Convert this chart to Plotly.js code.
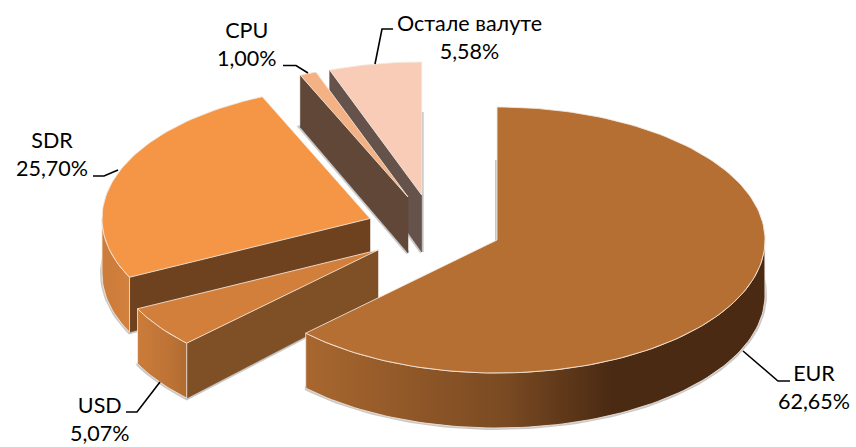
<!DOCTYPE html>
<html>
<head>
<meta charset="utf-8">
<script src="https://cdn.plot.ly/plotly-3.0.1.min.js"></script>
<style>html,body{margin:0;padding:0;background:#fff}#chart{width:856px;height:447px}</style>
</head>
<body>
<div id="chart"></div>
<script>
// Data
var categories = ['EUR', 'USD', 'SDR', 'CPU', 'Остале валуте'];
var shares = [62.65, 5.07, 25.70, 1.00, 5.58];

// Appearance of the exploded, tilted pie
var apexX = [497, 378, 370, 408, 421.7];
var apexY = [240, 250, 218.5, 197, 195];
var depthNear = [55, 49, 49, 56, 57];
var depthFar = [55, 55, 55, 52, 52];
var topColors = ['#b66f32', '#d27f3c', '#f49646', '#f4b183', '#f8ccb6'];
var wallColors = [null, '#7f4f25', '#6e421e', '#604737', '#65524a'];
var rimLeft = ['#a9672f', '#cb7c3a', '#cc7c3b', null, null];
var rimMid = ['#7a4a22', '#bd7335', '#cf7e3c', null, null];
var rimRight = ['#4a2a13', '#b06b30', '#d4813e', null, null];
var rimStop = [612, 187, 129, 0, 0];
var drawOrder = [4, 3, 2, 1, 0];
var labelX = [814, 100, 52, 247, 469];
var labelY = [387, 418.5, 153.5, 43.5, 36.5];
var leaderX = [[790, 778, 743], [126, 137, 160], [93, 104, 118], [283, 296, 308], [393, 382, 375]];
var leaderY = [[381, 381, 351], [412, 412, 382], [176, 176, 170], [65.5, 65.5, 73], [29, 29, 64]];

var RX = 268, RY = 133;
var traces = [];

function pt(i, deg, dy) {
  var a = deg * Math.PI / 180;
  return [apexX[i] + RX * Math.sin(a), apexY[i] - RY * Math.cos(a) + (dy || 0)];
}
function arc(i, a0, a1, dy) {
  var out = [], n = Math.max(2, Math.ceil(Math.abs(a1 - a0) / 1.5));
  for (var k = 0; k <= n; k++) out.push(pt(i, a0 + (a1 - a0) * k / n, dy));
  return out;
}
function add(poly, color, line, grad) {
  var t = {
    type: 'scatter', mode: 'lines', fill: 'toself', hoverinfo: 'skip', showlegend: false,
    x: poly.map(function (p) { return p[0]; }).concat([poly[0][0]]),
    y: poly.map(function (p) { return p[1]; }).concat([poly[0][1]]),
    fillcolor: color || undefined,
    line: line
  };
  if (grad) t.fillgradient = grad;
  traces.push(t);
}

var bounds = [], cum = 0;
shares.forEach(function (v) {
  bounds.push([cum * 3.6, (cum + v) * 3.6]);
  cum += v;
});

var edge = { color: 'rgba(245,232,220,0.85)', width: 1 };

drawOrder.forEach(function (i) {
  var a0 = bounds[i][0], a1 = bounds[i][1];
  var apexTop = [apexX[i], apexY[i]];
  var apexBot = [apexX[i], apexY[i] + depthNear[i]];

  // soft shadow under the slice
  add([apexBot].concat(arc(i, a0, a1, depthFar[i])), '#c9c9c9', { color: '#c9c9c9', width: 4 });

  // radial cut face
  if (wallColors[i]) {
    var pTop = pt(i, a0, 0), pBot = pt(i, a0, depthFar[i]);
    add([apexTop, pTop, pBot, apexBot], wallColors[i], { color: wallColors[i], width: 0.5 });
  }

  // outer rim, only where it faces the viewer
  if (rimLeft[i]) {
    var r0 = Math.max(a0, 88), r1 = Math.min(a1, 270);
    var poly = arc(i, r0, r1, 0).concat(arc(i, r1, r0, depthFar[i]));
    var xmin = Math.min.apply(null, poly.map(function (p) { return p[0]; }));
    add(poly, null, edge, {
      type: 'horizontal',
      start: xmin,
      stop: rimStop[i],
      colorscale: [[0, rimLeft[i]], [0.65, rimMid[i]], [1, rimRight[i]]]
    });
  }

  // top face last
  add([apexTop].concat(arc(i, a0, a1, 0)), topColors[i], edge);
});

// Leader lines
leaderX.forEach(function (lx, i) {
  traces.push({
    type: 'scatter', mode: 'lines', hoverinfo: 'skip', showlegend: false,
    x: lx, y: leaderY[i], line: { color: '#000', width: 1.6 }
  });
});

// Labels
var annotations = categories.map(function (c, i) {
  return {
    x: labelX[i], y: labelY[i], xref: 'x', yref: 'y', showarrow: false,
    xanchor: 'center', yanchor: 'middle', align: 'center',
    text: c + '<br>' + shares[i].toFixed(2).replace('.', ',') + '%',
    font: { family: 'Lato, "Open Sans", sans-serif', size: 21.5, color: '#000' }
  };
});

var layout = {
  width: 856, height: 447,
  margin: { l: 0, r: 0, t: 0, b: 0 },
  paper_bgcolor: '#fff', plot_bgcolor: '#fff',
  showlegend: false,
  xaxis: { range: [0, 856], visible: false, fixedrange: true },
  yaxis: { range: [447, 0], visible: false, fixedrange: true },
  annotations: annotations
};
Plotly.newPlot('chart', traces, layout, { displayModeBar: false, staticPlot: true });
</script>
</body>
</html>
